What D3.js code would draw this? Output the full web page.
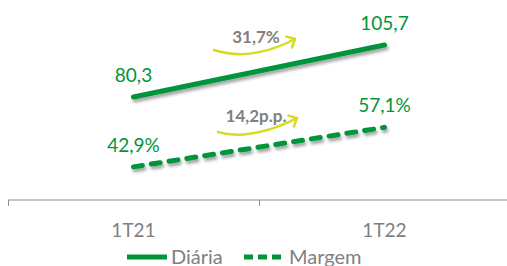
<!DOCTYPE html>
<html>
<head>
<meta charset="utf-8">
<script src="https://cdn.jsdelivr.net/npm/d3@7"></script>
<style>
  body { margin: 0; background: #fff; }
  svg { display: block; font-family: Lato, "Open Sans", sans-serif; }
</style>
</head>
<body>
<div id="chart"></div>
<script>
// data
const categories = ["1T21", "1T22"];
const diaria = [80.3, 105.7];
const margem = [42.9, 57.1];
const diariaLabels = ["80,3", "105,7"];
const margemLabels = ["42,9%", "57,1%"];
const growthLabels = ["31,7%", "14,2p.p."];
const seriesNames = ["Diária", "Margem"];

const width = 507, height = 266;
const green = "#00953b";
const arrowColor = "#d5dc22";

const svg = d3.select("#chart").append("svg")
    .attr("width", width)
    .attr("height", height);

const defs = svg.append("defs");
const shadow = defs.append("filter").attr("id", "shadow")
    .attr("x", "-10%").attr("y", "-50%").attr("width", "120%").attr("height", "200%");
shadow.append("feDropShadow")
    .attr("dx", 1.5).attr("dy", 3).attr("stdDeviation", 1.6)
    .attr("flood-color", "#000").attr("flood-opacity", 0.35);

const x = d3.scaleBand().domain(categories).range([8, 510]);
const cx = c => x(c) + x.bandwidth() / 2;
// two value axes (primary for diaria, secondary for margem)
const y1 = d3.scaleLinear().domain([30, 125]).range([200, 5.5]);
const y2 = d3.scaleLinear().domain([31, 100]).range([200, 8]);

// axis
const axisY = 200;
svg.append("line")
    .attr("x1", 8).attr("x2", width)
    .attr("y1", axisY).attr("y2", axisY)
    .attr("stroke", "#8c8c8c").attr("stroke-width", 1);
const edges = categories.map(c => x(c)).concat([x(categories[1]) + x.bandwidth()]);
svg.selectAll(".tick").data(edges).enter().append("line")
    .attr("x1", d => d + 0.5).attr("x2", d => d + 0.5)
    .attr("y1", axisY).attr("y2", axisY + 6)
    .attr("stroke", "#8c8c8c");
svg.selectAll(".cat").data(categories).enter().append("text")
    .attr("x", d => cx(d))
    .attr("y", 237)
    .attr("text-anchor", "middle")
    .attr("fill", "#7f7f7f")
    .style("font-size", "19px")
    .text(d => d);

// lines
const line1 = d3.line().x((d, i) => cx(categories[i])).y(d => y1(d));
const line2 = d3.line().x((d, i) => cx(categories[i])).y(d => y2(d));

svg.append("path").datum(diaria)
    .attr("d", line1)
    .attr("fill", "none")
    .attr("stroke", green)
    .attr("stroke-width", 5)
    .attr("stroke-linecap", "round")
    .attr("filter", "url(#shadow)");

svg.append("path").datum(margem)
    .attr("d", line2)
    .attr("fill", "none")
    .attr("stroke", green)
    .attr("stroke-width", 5)
    .attr("stroke-linecap", "round")
    .attr("stroke-dasharray", "9,9")
    .attr("filter", "url(#shadow)");

// value labels
svg.selectAll(".l1").data(diaria).enter().append("text")
    .attr("x", (d, i) => cx(categories[i]))
    .attr("y", d => y1(d) - 15)
    .attr("text-anchor", "middle")
    .attr("fill", green)
    .style("font-size", "19px")
    .text((d, i) => diariaLabels[i]);

svg.selectAll(".l2").data(margem).enter().append("text")
    .attr("x", (d, i) => cx(categories[i]))
    .attr("y", d => y2(d) - 15)
    .attr("text-anchor", "middle")
    .attr("fill", green)
    .style("font-size", "19px")
    .text((d, i) => margemLabels[i]);

// growth arrows
const mid = (cx(categories[0]) + cx(categories[1])) / 2;
const annots = [
  { text: growthLabels[0], ty: y1(d3.mean(diaria)) - 28, ay: y1(d3.mean(diaria)) - 21, dx: -45, ex: 36, rise: 11, sag: 12 },
  { text: growthLabels[1], ty: y2(d3.mean(margem)) - 25, ay: y2(d3.mean(margem)) - 15, dx: -41, ex: 38, rise: 14, sag: 9 }
];

annots.forEach(a => {
  const sx = mid + a.dx, sy = a.ay;
  const ex = mid + a.ex, ey = a.ay - a.rise;
  const qx = mid - 8, qy = a.ay + a.sag;
  const p = d3.path();
  p.moveTo(sx, sy);
  p.quadraticCurveTo(qx, qy, ex, ey);
  svg.append("path").attr("d", p.toString())
      .attr("fill", "none").attr("stroke", arrowColor)
      .attr("stroke-width", 2.5).attr("stroke-linecap", "round");
  const ang = Math.atan2(ey - qy, ex - qx);
  const head = d3.path();
  [ang + Math.PI - 0.75, ang + Math.PI + 0.75].forEach(t => {
    head.moveTo(ex, ey);
    head.lineTo(ex + 9 * Math.cos(t), ey + 9 * Math.sin(t));
  });
  svg.append("path").attr("d", head.toString())
      .attr("fill", "none").attr("stroke", arrowColor)
      .attr("stroke-width", 2.5).attr("stroke-linecap", "round");
  svg.append("text")
      .attr("x", mid - 3)
      .attr("y", a.ty)
      .attr("text-anchor", "middle")
      .attr("fill", "#808080")
      .style("font-size", "17px")
      .style("font-weight", "bold")
      .text(a.text);
});

// legend
const legend = svg.append("g").attr("transform", "translate(127,257)");
legend.append("line").attr("x1", 0).attr("x2", 40).attr("y1", 0).attr("y2", 0)
    .attr("stroke", green).attr("stroke-width", 5);
legend.append("text").attr("x", 44).attr("y", 7)
    .attr("fill", "#7f7f7f").style("font-size", "20px").text(seriesNames[0]);
legend.append("line").attr("x1", 117).attr("x2", 154).attr("y1", 0).attr("y2", 0)
    .attr("stroke", green).attr("stroke-width", 5).attr("stroke-dasharray", "9,5");
legend.append("text").attr("x", 162).attr("y", 7)
    .attr("fill", "#7f7f7f").style("font-size", "20px").text(seriesNames[1]);
</script>
</body>
</html>
